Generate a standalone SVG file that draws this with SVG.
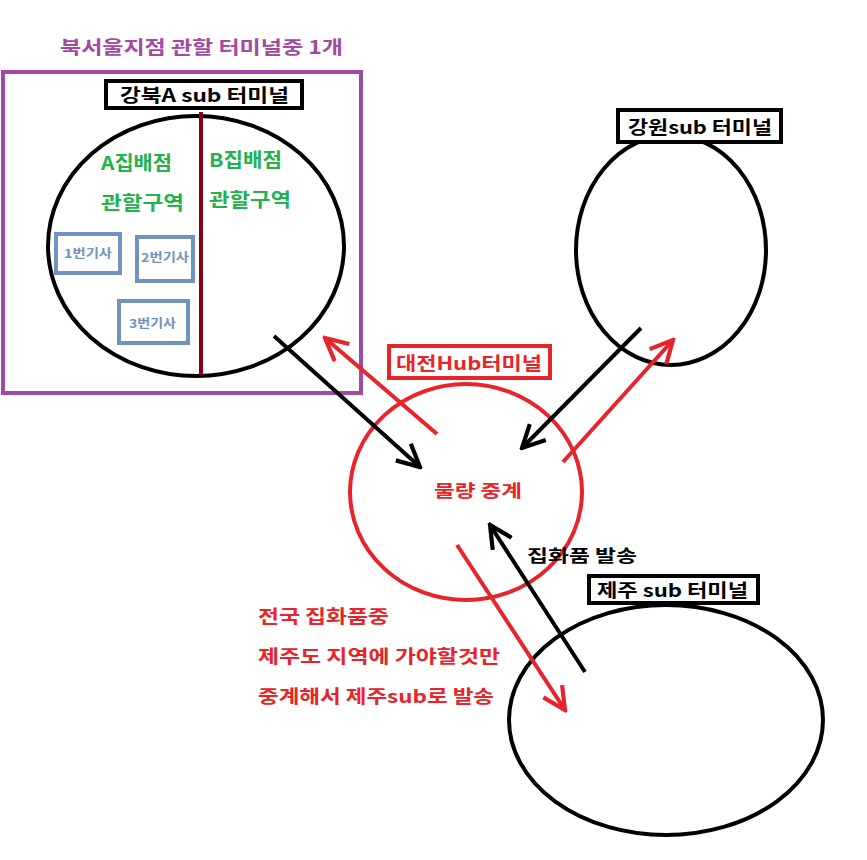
<svg xmlns="http://www.w3.org/2000/svg" width="867" height="860" viewBox="0 0 867 860">
<defs>
<marker id="ak" viewBox="0 0 20 20" refX="18" refY="10" markerWidth="28" markerHeight="28" markerUnits="userSpaceOnUse" orient="auto"><path d="M2,2 L18,10 L2,18" fill="none" stroke="#000" stroke-width="3"/></marker>
<marker id="ar" viewBox="0 0 20 20" refX="18" refY="10" markerWidth="28" markerHeight="28" markerUnits="userSpaceOnUse" orient="auto"><path d="M2,2 L18,10 L2,18" fill="none" stroke="#e8232a" stroke-width="3"/></marker>
<style>
text{font-family:"Noto Sans CJK KR","Noto Sans",sans-serif;font-weight:bold}
.lbl{fill:#fff;stroke:#000;stroke-width:4}
.k{stroke:#000;stroke-width:4;fill:none}
.r{stroke:#e8232a;stroke-width:4;fill:none}
.drv{fill:#fff;stroke:#7092be;stroke-width:4}
.dt{fill:#7092be;font-size:12px}
.g{fill:#22b14c;font-size:19px}
</style>
</defs>
<rect width="867" height="860" fill="#fff"/>
<g id="seoul-region">
<rect x="3" y="72" width="358" height="321" fill="none" stroke="#a349a4" stroke-width="4"/>
<text x="60" y="54" fill="#a349a4" font-size="18" textLength="283" lengthAdjust="spacingAndGlyphs">북서울지점 관할 터미널중 1개</text>
</g>
<g id="gangbuk">
<ellipse cx="196" cy="246" rx="148" ry="130" class="k"/>
<line x1="201" y1="112" x2="201" y2="375" stroke="#880015" stroke-width="4"/>
<rect x="106" y="81" width="196" height="27" class="lbl"/>
<text x="120" y="102" font-size="18" textLength="169" lengthAdjust="spacingAndGlyphs">강북A sub 터미널</text>
<text x="101" y="170" class="g" textLength="71" lengthAdjust="spacingAndGlyphs">A집배점</text>
<text x="101" y="210" class="g" textLength="83" lengthAdjust="spacingAndGlyphs">관할구역</text>
<text x="209" y="167" class="g" textLength="73" lengthAdjust="spacingAndGlyphs">B집배점</text>
<text x="209" y="207" class="g" textLength="82" lengthAdjust="spacingAndGlyphs">관할구역</text>
</g>
<g id="driver1"><rect x="56" y="234" width="64" height="39" class="drv"/><text x="64" y="258" class="dt" textLength="48" lengthAdjust="spacingAndGlyphs">1번기사</text></g>
<g id="driver2"><rect x="137" y="237" width="56" height="44" class="drv"/><text x="141" y="262" class="dt" textLength="48" lengthAdjust="spacingAndGlyphs">2번기사</text></g>
<g id="driver3"><rect x="119" y="301" width="69" height="42" class="drv"/><text x="129" y="328" class="dt" textLength="47" lengthAdjust="spacingAndGlyphs">3번기사</text></g>
<g id="gangwon">
<ellipse cx="671" cy="250" rx="95" ry="115" class="k"/>
<rect x="618" y="110" width="163" height="32" class="lbl"/>
<text x="628" y="134" font-size="18" textLength="144" lengthAdjust="spacingAndGlyphs">강원sub 터미널</text>
</g>
<g id="daejeon">
<ellipse cx="466" cy="492" rx="116" ry="108" class="r"/>
<rect x="389" y="346" width="161" height="32" fill="#fff" stroke="#e8232a" stroke-width="4"/>
<text x="396" y="370" fill="#e8232a" font-size="18" textLength="146" lengthAdjust="spacingAndGlyphs">대전Hub터미널</text>
<text x="434" y="497" fill="#e8232a" font-size="17" textLength="88" lengthAdjust="spacingAndGlyphs">물량 중계</text>
</g>
<g id="jeju">
<ellipse cx="666" cy="720" rx="157" ry="115" class="k"/>
<rect x="589" y="576" width="169" height="27" class="lbl"/>
<text x="597" y="597" font-size="18" textLength="151" lengthAdjust="spacingAndGlyphs">제주 sub 터미널</text>
</g>
<g id="connectors">
<line x1="274" y1="336" x2="420" y2="467" class="k" marker-end="url(#ak)"/>
<line x1="437" y1="434" x2="325" y2="338" class="r" marker-end="url(#ar)"/>
<line x1="641" y1="328" x2="522" y2="448" class="k" marker-end="url(#ak)"/>
<line x1="563" y1="462" x2="673" y2="340" class="r" marker-end="url(#ar)"/>
<line x1="457" y1="545" x2="565" y2="710" class="r" marker-end="url(#ar)"/>
<line x1="585" y1="672" x2="490" y2="525" class="k" marker-end="url(#ak)"/>
<text x="527" y="562" font-size="17" textLength="110" lengthAdjust="spacingAndGlyphs">집화품 발송</text>
<text x="258" y="623" fill="#e8232a" font-size="18" textLength="131" lengthAdjust="spacingAndGlyphs">전국 집화품중</text>
<text x="258" y="663" fill="#e8232a" font-size="18" textLength="242" lengthAdjust="spacingAndGlyphs">제주도 지역에 가야할것만</text>
<text x="258" y="703" fill="#e8232a" font-size="18" textLength="236" lengthAdjust="spacingAndGlyphs">중계해서 제주sub로 발송</text>
</g>
</svg>
